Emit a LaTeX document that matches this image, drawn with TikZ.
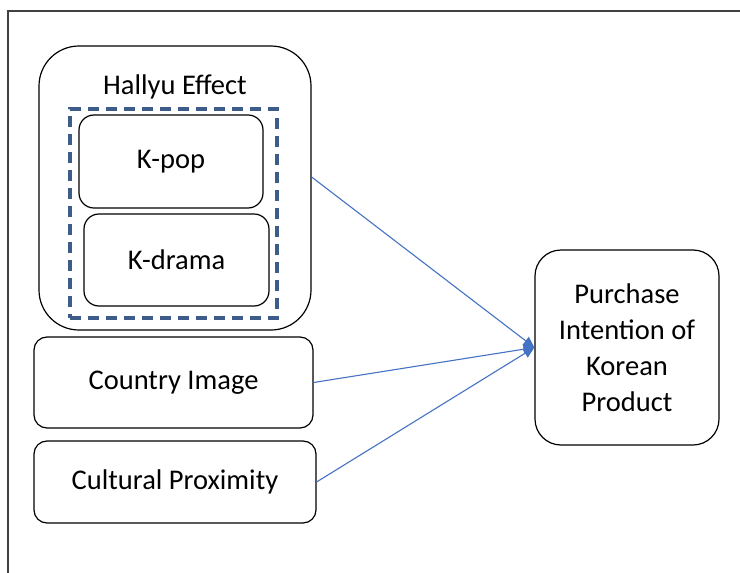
\documentclass[tikz,border=0pt]{standalone}
\usepackage{fontspec}
\setmainfont{Carlito}
\usetikzlibrary{arrows.meta,positioning}
\definecolor{hlLine}{HTML}{4472C4}
\definecolor{hlDash}{HTML}{3E5C8A}
\definecolor{hlFrame}{HTML}{404040}

\begin{document}
\begin{tikzpicture}[x=1pt,y=-1pt]
\tikzset{
  box/.style={rectangle, draw=black, line width=1.2pt, inner sep=0pt, align=center,
              font=\fontsize{28.5}{36}\selectfont},
  grp/.style={box, rounded corners=40pt},
  sub/.style={box, rounded corners=15pt},
  var/.style={box, rounded corners=13pt},
  outc/.style={box, rounded corners=26pt},
  ln/.style={-{Triangle[length=11pt,width=10pt]}, draw=hlLine, line width=1.1pt}
}
\useasboundingbox (0,0) rectangle (740,573);

% frame
\draw[hlFrame, line width=1.2pt] (8,573) -- (8,11) -- (740,11);

% Hallyu group
\node[grp, minimum width=272pt, minimum height=284pt] (hallyu) at (175,188) {};
\node[font=\fontsize{28.5}{36}\selectfont, inner sep=0pt] (title) at (175,87) {Hallyu Effect};
\node[draw=hlDash, dash pattern=on 11pt off 7pt, line width=3.2pt,
      minimum width=207pt, minimum height=209pt, inner sep=0pt] (dash) at (173.5,213.5) {};
\node[sub, minimum width=184pt, minimum height=93pt] (kpop) at (171,161.5) {K-pop};
\node[sub, minimum width=185pt, minimum height=92pt] (kdrama) at (176.5,260) {K-drama};

% other variables
\node[var, minimum width=279pt, minimum height=91pt] (country) at (173.5,382.5) {Country Image};
\node[var, minimum width=282pt, minimum height=82pt] (culture) at (175,482) {Cultural Proximity};

% outcome
\node[outc, minimum width=184pt, minimum height=195pt] (purch) at (627,347.5)
  {Purchase\\Intention of\\Korean\\Product};

% paths
\draw[ln] ([yshift=11pt]hallyu.east) -- (purch.west);
\draw[ln] (country.east) -- (purch.west);
\draw[ln] (culture.east) -- (purch.west);
\end{tikzpicture}
\end{document}
